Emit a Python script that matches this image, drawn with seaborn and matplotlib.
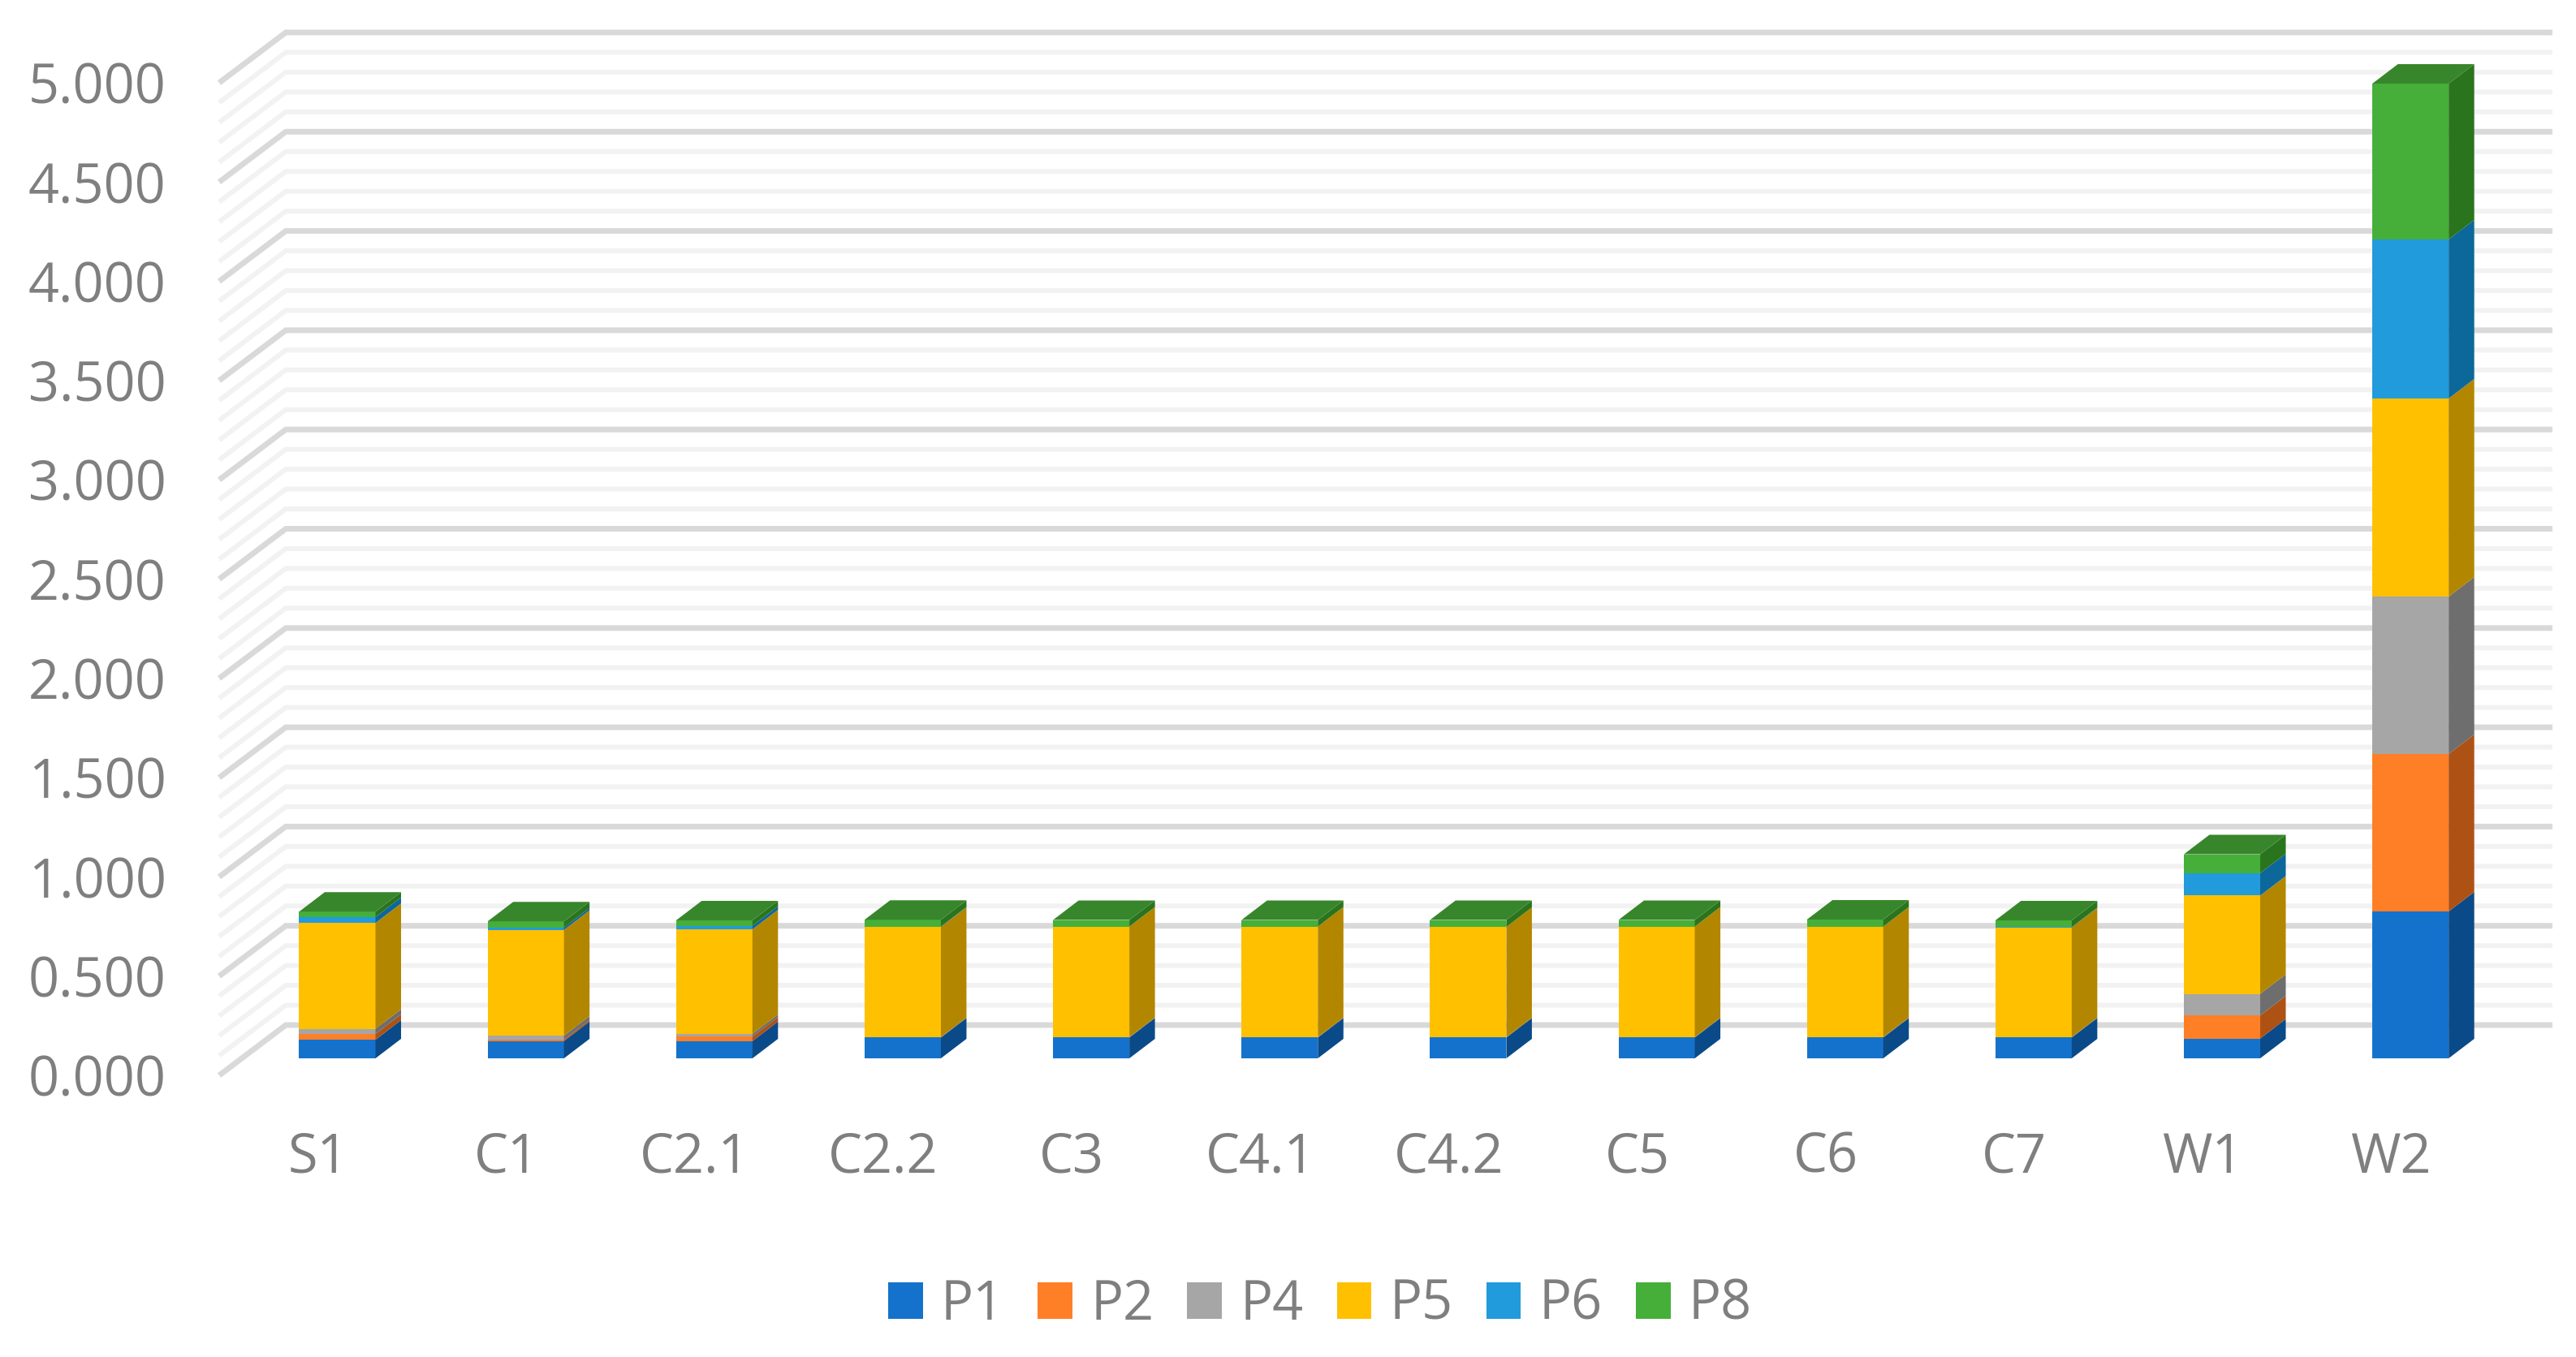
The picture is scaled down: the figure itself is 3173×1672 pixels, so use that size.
import numpy as np
import matplotlib
matplotlib.use("Agg")
import matplotlib.pyplot as plt
from matplotlib.patches import Polygon, Patch
import seaborn as sns

categories = ["S1", "C1", "C2.1", "C2.2", "C3", "C4.1", "C4.2", "C5", "C6", "C7", "W1", "W2"]
P1 = [0.094, 0.087, 0.087, 0.105, 0.105, 0.105, 0.105, 0.105, 0.105, 0.105, 0.100, 0.740]
P2 = [0.029, 0.008, 0.022, 0.000, 0.000, 0.000, 0.000, 0.000, 0.000, 0.000, 0.116, 0.793]
P4 = [0.026, 0.019, 0.014, 0.002, 0.002, 0.002, 0.002, 0.002, 0.002, 0.002, 0.109, 0.793]
P5 = [0.533, 0.533, 0.527, 0.555, 0.557, 0.557, 0.555, 0.557, 0.557, 0.552, 0.495, 0.998]
P6 = [0.030, 0.012, 0.018, 0.002, 0.000, 0.000, 0.000, 0.000, 0.000, 0.002, 0.113, 0.801]
P8 = [0.027, 0.031, 0.027, 0.034, 0.033, 0.033, 0.035, 0.033, 0.035, 0.034, 0.095, 0.785]
series_names = ["P1", "P2", "P4", "P5", "P6", "P8"]
series_values = [P1, P2, P4, P5, P6, P8]
front_colors = ["#1572CC", "#FF7F27", "#A6A6A6", "#FFC000", "#219BDB", "#46AF3A"]
side_colors = ["#0B4A88", "#AE5114", "#6E6E6E", "#B38600", "#0C689A", "#2B741E"]
top_color = "#38862B"
y_ticks = [0.0, 0.5, 1.0, 1.5, 2.0, 2.5, 3.0, 3.5, 4.0, 4.5, 5.0]

W, H = 3173, 1672
PX_PER_UNIT = 244.6
PX_PER_CAT = 232.15
X0_PX = 415.5       # pixel of the first category centre
AX_L, AX_R, AX_B = 270, 3150, 1325

sns.set_theme(style="white")
plt.rcParams["font.family"] = ["Open Sans", "DejaVu Sans"]
TEXT = "#7F7F7F"
FS = 48

fig = plt.figure(figsize=(W / 100, H / 100), dpi=100, facecolor="white")
ax = fig.add_axes([AX_L / W, (H - AX_B) / H, (AX_R - AX_L) / W, AX_B / H])

bar_lift = 21 / PX_PER_UNIT
wall_lift = 62 / PX_PER_UNIT
depth_x = 31.5 / PX_PER_CAT
depth_y = 24 / PX_PER_UNIT
xleft = (AX_L - X0_PX) / PX_PER_CAT
xright = (AX_R - X0_PX) / PX_PER_CAT
xwall = (352 - X0_PX) / PX_PER_CAT
xwall_end = (3144 - X0_PX) / PX_PER_CAT

# Gridlines on the floor edge and back wall
n_steps = int(round(y_ticks[-1] * 10))
for k in range(n_steps + 1):
    v = k / 10
    major = k % 5 == 0
    ax.plot([xleft, xwall, xwall_end], [v, v + wall_lift, v + wall_lift],
            color="#D9D9D9" if major else "#F2F2F2",
            lw=5.0 if major else 4.3, zorder=1.2 if major else 1,
            solid_capstyle="butt", solid_joinstyle="miter", clip_on=False)

# Stacked bars with 3D faces
cum = np.zeros(len(categories))
for i, (name, vals) in enumerate(zip(series_names, series_values)):
    vals = np.array(vals)
    sns.barplot(x=categories, y=vals, bottom=cum + bar_lift, order=categories,
                color=front_colors[i], saturation=1, width=0.405,
                linewidth=0, edgecolor="none", ax=ax, zorder=3)
    for p in ax.containers[-1]:
        x1 = p.get_x() + p.get_width()
        y0, y1 = p.get_y(), p.get_y() + p.get_height()
        ax.add_patch(Polygon([(x1, y0), (x1 + depth_x, y0 + depth_y),
                              (x1 + depth_x, y1 + depth_y), (x1, y1)],
                             closed=True, facecolor=side_colors[i], edgecolor="none", zorder=3))
        if i == len(series_names) - 1:
            x0 = p.get_x()
            ax.add_patch(Polygon([(x0, y1), (x1, y1), (x1 + depth_x, y1 + depth_y),
                                  (x0 + depth_x, y1 + depth_y)],
                                 closed=True, facecolor=top_color, edgecolor="none", zorder=3))
    cum = cum + vals

ax.set_xlim(xleft, xright)
ax.set_ylim(0, AX_B / PX_PER_UNIT)
ax.set_xlabel("")
ax.set_ylabel("")
ax.set_yticks(y_ticks)
ax.set_yticklabels([f"{t:.3f}" for t in y_ticks])
ax.set_xticks(np.arange(len(categories)) - 24 / PX_PER_CAT)
ax.set_xticklabels(categories)
ax.tick_params(axis="y", length=0, pad=47, labelsize=FS, labelcolor=TEXT)
ax.tick_params(axis="x", length=0, pad=49, labelsize=FS, labelcolor=TEXT)
for s in ax.spines.values():
    s.set_visible(False)
ax.grid(False)
ax.patch.set_alpha(0)

handles = [Patch(facecolor=c, edgecolor="none", label=n) for n, c in zip(series_names, front_colors)]
fig.legend(handles=handles, ncol=6, loc="center", bbox_to_anchor=(1626 / W, 1 - 1608 / H),
           frameon=False, fontsize=FS, labelcolor=TEXT, handlelength=0.64, handleheight=0.66,
           handletextpad=0.33, columnspacing=0.62, borderpad=0, borderaxespad=0)

fig.savefig("out.png", dpi=100, facecolor="white")
